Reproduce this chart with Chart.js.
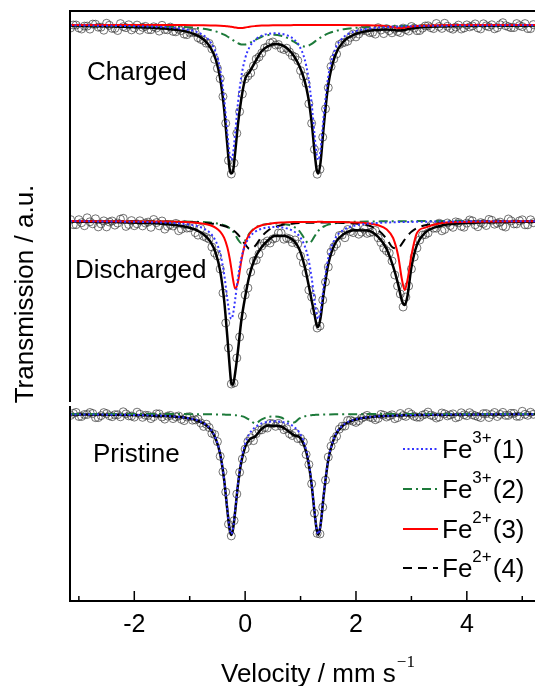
<!DOCTYPE html>
<html>
<head>
<meta charset="utf-8">
<script src="https://cdn.jsdelivr.net/npm/chart.js@4.4.0/dist/chart.umd.min.js"></script>
<style>
  html, body { margin: 0; padding: 0; background: #fff; }
</style>
</head>
<body>
<canvas id="spectra" width="535" height="686"></canvas>
<script>
// velocity grid of the measured points (mm/s)
const velocity = [-3.15,-3.10,-3.05,-3.00,-2.95,-2.90,-2.85,-2.80,-2.75,-2.70,-2.65,-2.60,-2.55,-2.50,-2.45,-2.40,-2.35,-2.30,-2.25,-2.20,
  -2.15,-2.10,-2.05,-2.00,-1.95,-1.90,-1.85,-1.80,-1.75,-1.70,-1.65,-1.60,-1.55,-1.50,-1.45,-1.40,-1.35,-1.30,-1.25,-1.20,
  -1.15,-1.10,-1.05,-1.00,-0.95,-0.90,-0.85,-0.80,-0.75,-0.70,-0.65,-0.60,-0.55,-0.50,-0.45,-0.40,-0.35,-0.30,-0.25,-0.20,
  -0.15,-0.10,-0.05,0.00,0.05,0.10,0.15,0.20,0.25,0.30,0.35,0.40,0.45,0.50,0.55,0.60,0.65,0.70,0.75,0.80,
  0.85,0.90,0.95,1.00,1.05,1.10,1.15,1.20,1.25,1.30,1.35,1.40,1.45,1.50,1.55,1.60,1.65,1.70,1.75,1.80,
  1.85,1.90,1.95,2.00,2.05,2.10,2.15,2.20,2.25,2.30,2.35,2.40,2.45,2.50,2.55,2.60,2.65,2.70,2.75,2.80,
  2.85,2.90,2.95,3.00,3.05,3.10,3.15,3.20,3.25,3.30,3.35,3.40,3.45,3.50,3.55,3.60,3.65,3.70,3.75,3.80,
  3.85,3.90,3.95,4.00,4.05,4.10,4.15,4.20,4.25,4.30,4.35,4.40,4.45,4.50,4.55,4.60,4.65,4.70,4.75,4.80,
  4.85,4.90,4.95,5.00,5.05,5.10,5.15,5.20];

// velocity grid of the fitted curves (mm/s)
const fitVelocity = [-3.16,-2.4,-1.8,-1.4,-1.1,-0.9,-0.75,-0.63,-0.53,-0.45,-0.38,-0.32,-0.28,-0.25,-0.22,-0.18,-0.13,-0.07,0,0.08,
  0.18,0.3,0.42,0.53,0.65,0.77,0.88,0.98,1.07,1.14,1.2,1.25,1.29,1.32,1.36,1.42,1.5,1.62,1.78,1.98,
  2.2,2.4,2.55,2.67,2.76,2.83,2.88,2.93,3,3.1,3.25,3.5,3.9,4.5,5.25];

// transmission (%) - charged
const chargedData = [99.70,100.00,100.00,99.70,99.60,99.89,99.89,99.59,100.09,100.08,99.78,99.78,99.48,100.17,99.97,99.66,99.66,99.45,100.14,99.83,
  99.73,100.02,99.51,99.70,99.99,99.48,99.77,99.86,99.55,99.53,99.82,99.70,99.39,99.97,99.55,99.52,99.79,99.36,99.32,99.58,
  99.44,99.09,99.03,99.25,99.26,99.25,98.73,98.56,98.45,98.18,98.16,97.61,96.57,95.66,94.64,92.85,90.17,86.45,85.10,86.19,
  89.17,91.34,93.10,94.60,94.90,95.20,95.90,96.60,96.80,97.20,97.70,97.80,98.20,98.30,98.00,98.05,97.66,97.55,97.68,97.30,
  96.93,96.80,96.44,95.44,94.88,94.17,92.12,90.17,87.56,85.08,85.57,88.78,91.62,93.73,95.85,96.60,97.10,98.04,98.19,98.28,
  98.38,98.77,99.10,98.81,99.10,99.39,99.54,99.39,99.23,99.26,99.09,99.73,99.50,99.14,99.64,99.43,99.22,99.59,99.35,99.24,
  99.69,99.54,99.40,99.85,99.69,99.43,99.45,99.68,99.90,99.92,99.73,99.64,100.15,99.85,99.66,100.17,99.87,99.68,99.58,99.79,
  99.99,99.60,99.70,100.01,99.81,99.91,100.11,99.71,99.61,100.12,99.92,99.82,100.02,99.62,99.73,100.03,100.23,99.93,99.83,99.74,
  99.74,100.14,99.94,99.84,100.14,99.64,99.64,100.04];
const chargedTotal = [99.92,99.86,99.76,99.62,99.39,99.05,98.55,97.79,96.55,94.64,
  91.64,87.91,85.63,85.15,85.35,87.25,90.05,92.57,94.60,95.30,
  96.30,97.40,97.90,98.10,98.03,97.61,96.90,95.87,94.49,92.73,
  90.26,87.46,85.55,85.15,86.24,89.97,94.02,96.90,98.37,99.06,
  99.39,99.53,99.54,99.51,99.45,99.47,99.52,99.58,99.65,99.73,
  99.80,99.85,99.90,99.92,99.94];
const chargedFe3a = [99.96,99.92,99.86,99.77,99.60,99.35,98.96,98.33,97.24,95.51,
  92.71,89.19,87.08,86.49,87.08,89.16,92.16,94.81,96.65,97.79,
  98.51,98.94,99.12,99.17,99.12,98.94,98.57,97.88,96.65,94.81,
  92.16,89.16,87.08,86.49,87.51,91.04,94.87,97.52,98.80,99.37,
  99.62,99.74,99.79,99.83,99.84,99.86,99.87,99.87,99.88,99.89,
  99.91,99.92,99.95,99.96,99.97];
const chargedFe3b = [99.97,99.95,99.91,99.86,99.80,99.72,99.62,99.50,99.36,99.20,
  99.03,98.85,98.71,98.60,98.49,98.34,98.18,98.06,98.06,98.21,
  98.51,98.83,98.99,99.02,98.92,98.68,98.33,98.00,97.85,97.93,
  98.11,98.31,98.48,98.59,98.74,98.94,99.16,99.39,99.58,99.71,
  99.80,99.85,99.87,99.89,99.90,99.91,99.91,99.92,99.92,99.93,
  99.94,99.95,99.96,99.97,99.98];
const chargedFe2a = [99.99,99.99,99.99,99.99,99.99,99.98,99.97,99.96,99.95,99.93,
  99.90,99.87,99.84,99.82,99.79,99.75,99.71,99.70,99.75,99.83,
  99.89,99.94,99.96,99.97,99.98,99.98,99.99,99.99,99.99,99.99,
  99.99,99.99,99.99,99.99,99.99,99.99,99.99,99.99,99.99,99.98,
  99.97,99.94,99.88,99.79,99.71,99.70,99.74,99.79,99.85,99.91,
  99.95,99.98,99.99,99.99,99.99];

// transmission (%) - discharged
const dischargedData = [100.14,99.64,99.63,100.13,99.83,99.53,100.32,99.92,99.72,100.22,99.41,99.71,100.01,99.41,99.90,100.00,99.59,99.79,100.18,100.27,
  99.46,99.65,100.04,99.53,99.72,100.02,99.51,99.80,99.89,99.37,100.15,99.84,99.52,100.00,99.19,99.47,99.64,99.50,99.76,99.03,
  99.19,99.65,99.29,99.32,99.54,98.84,98.59,99.25,98.47,98.35,98.20,97.40,96.80,96.50,95.20,92.80,89.80,87.30,83.70,83.80,
  86.30,88.40,90.50,92.60,93.30,94.90,96.00,96.10,96.70,97.50,97.80,98.00,97.80,98.20,98.30,98.80,98.80,98.18,98.30,98.22,
  97.85,98.10,97.70,96.50,95.80,94.80,93.10,92.40,91.00,89.30,89.50,92.10,93.90,95.40,96.90,97.40,97.70,98.55,98.60,98.33,
  99.15,98.95,98.84,99.37,98.68,98.88,99.18,98.76,98.85,98.90,99.05,98.32,97.85,97.30,97.03,96.80,96.00,94.60,93.50,92.70,
  91.40,92.40,93.50,95.20,96.40,97.30,98.10,98.60,98.64,98.80,99.55,99.28,99.28,99.78,99.02,99.16,99.80,99.54,99.37,99.91,
  99.84,99.47,99.38,99.79,100.10,100.01,99.62,99.43,99.84,99.75,99.55,100.16,100.07,99.68,99.78,99.89,99.49,99.40,100.20,100.01,
  99.71,99.71,100.01,100.12,99.62,99.62,100.12,99.83];
const dischargedTotal = [99.94,99.90,99.80,99.67,99.45,99.14,98.67,97.96,96.79,94.99,
  92.13,88.33,85.50,83.80,83.60,84.80,87.00,90.00,92.40,94.60,
  96.30,97.40,98.10,98.50,98.52,98.42,98.02,97.16,95.54,93.76,
  92.06,90.70,89.60,89.40,90.30,92.90,95.67,97.73,98.69,99.07,
  99.06,98.42,97.23,95.46,93.69,92.00,91.60,92.53,95.36,97.62,
  98.84,99.48,99.77,99.88,99.93];
const dischargedFe3a = [99.97,99.95,99.90,99.83,99.71,99.53,99.25,98.79,98.00,96.75,
  94.72,92.17,90.65,90.22,90.65,92.15,94.33,96.25,97.57,98.40,
  98.92,99.23,99.37,99.40,99.37,99.23,98.96,98.47,97.57,96.25,
  94.33,92.15,90.65,90.22,90.96,93.51,96.28,98.21,99.13,99.54,
  99.73,99.81,99.85,99.87,99.89,99.90,99.90,99.91,99.91,99.92,
  99.93,99.95,99.96,99.97,99.98];
const dischargedFe3b = [99.99,99.99,99.98,99.96,99.95,99.92,99.89,99.84,99.78,99.70,
  99.58,99.43,99.28,99.13,98.95,98.64,98.16,97.78,98.06,98.78,
  99.33,99.60,99.71,99.75,99.73,99.63,99.42,98.99,98.25,97.77,
  97.99,98.45,98.79,99.01,99.23,99.45,99.64,99.78,99.86,99.92,
  99.95,99.96,99.97,99.97,99.98,99.98,99.98,99.98,99.98,99.99,
  99.99,99.99,99.99,99.99,99.99];
const dischargedFe2a = [99.99,99.98,99.96,99.94,99.89,99.82,99.72,99.57,99.32,98.94,
  98.33,97.34,96.30,95.29,94.21,93.25,93.88,95.99,97.73,98.73,
  99.28,99.57,99.71,99.79,99.84,99.87,99.89,99.90,99.91,99.91,
  99.91,99.91,99.91,99.92,99.92,99.91,99.91,99.91,99.89,99.86,
  99.78,99.57,99.18,98.30,96.55,94.12,93.10,94.12,96.55,98.80,
  99.34,99.75,99.91,99.96,99.98];
const dischargedFe2b = [99.99,99.98,99.96,99.94,99.90,99.87,99.81,99.76,99.69,99.60,
  99.50,99.39,99.29,99.20,99.09,98.92,98.65,98.24,97.67,97.21,
  97.50,98.45,99.08,99.39,99.58,99.69,99.75,99.80,99.81,99.83,
  99.83,99.84,99.85,99.84,99.85,99.84,99.84,99.83,99.81,99.75,
  99.60,99.08,98.23,97.32,97.27,97.74,98.15,98.52,98.92,99.29,
  99.58,99.79,99.91,99.96,99.98];

// transmission (%) - pristine
const pristineData = [99.86,100.06,100.16,99.75,99.75,99.95,99.95,100.15,100.05,99.64,99.64,99.84,100.14,100.04,99.83,99.73,99.93,99.93,99.72,100.22,
  100.01,99.81,99.80,99.69,100.18,99.98,99.67,99.87,99.85,99.54,99.73,100.02,100.01,99.70,99.49,99.79,99.86,99.54,99.72,99.80,
  99.47,99.34,99.70,99.74,99.38,99.41,99.50,99.10,98.76,98.98,98.65,98.07,97.95,97.24,95.77,94.22,92.20,88.98,87.81,89.34,
  92.00,94.17,95.50,96.49,97.26,97.62,97.34,98.04,98.38,98.42,98.64,98.60,99.06,99.02,98.77,99.06,98.80,98.43,98.53,98.03,
  97.85,98.08,97.54,97.56,97.20,95.95,94.95,93.02,90.08,88.06,88.00,90.68,93.38,95.70,96.78,97.42,97.78,98.49,98.78,98.79,
  99.35,99.38,99.27,99.16,99.33,99.58,99.72,99.86,99.68,99.60,99.43,99.56,99.96,99.88,99.70,99.81,99.92,99.53,99.64,100.05,
  99.85,99.76,100.16,99.97,99.77,99.68,99.68,99.88,99.98,100.19,99.89,99.80,99.60,99.70,100.10,100.01,99.81,99.91,100.01,99.62,
  99.72,100.12,99.92,99.83,100.13,99.93,99.83,99.74,99.64,100.04,100.04,99.65,99.95,100.15,99.75,99.96,100.16,99.86,99.86,100.06,
  100.06,99.77,99.77,100.27,99.97,99.87,100.17,99.97];
const pristineTotal = [99.96,99.93,99.87,99.79,99.64,99.41,99.06,98.49,97.51,95.97,
  93.47,90.33,88.45,87.91,88.43,90.25,92.89,95.18,96.69,97.45,
  97.75,98.52,98.85,98.82,98.75,98.32,97.88,97.68,96.78,95.23,
  92.92,90.28,88.45,87.93,88.85,91.99,95.40,97.77,98.91,99.42,
  99.66,99.76,99.81,99.84,99.85,99.86,99.87,99.88,99.88,99.90,
  99.91,99.92,99.94,99.96,99.97];
const pristineFe3a = [99.96,99.93,99.88,99.80,99.65,99.43,99.08,98.52,97.55,96.01,
  93.53,90.40,88.53,88.00,88.53,90.37,93.04,95.39,97.02,98.04,
  98.68,99.06,99.22,99.27,99.22,99.06,98.73,98.12,97.02,95.39,
  93.04,90.37,88.53,88.00,88.91,92.04,95.44,97.80,98.93,99.44,
  99.67,99.77,99.82,99.85,99.86,99.87,99.88,99.89,99.89,99.91,
  99.92,99.93,99.95,99.97,99.98];
const pristineFe3b = [100.00,100.00,99.99,99.99,99.99,99.98,99.98,99.97,99.96,99.96,
  99.94,99.93,99.92,99.91,99.90,99.88,99.85,99.79,99.67,99.41,
  99.07,99.46,99.72,99.76,99.65,99.26,99.15,99.56,99.76,99.84,
  99.88,99.91,99.92,99.93,99.94,99.95,99.96,99.97,99.98,99.98,
  99.99,99.99,99.99,99.99,99.99,99.99,99.99,99.99,99.99,99.99,
  99.99,99.99,99.99,99.99,99.99];

const xTicks = [-2, 0, 2, 4];
const xMinorTicks = [-3, -1, 1, 3, 5];
const panelNames = ['Charged', 'Discharged', 'Pristine'];
const legendCharge = ['3+', '3+', '2+', '2+'];
const legendSite = ['(1)', '(2)', '(3)', '(4)'];

// vertical offset of each spectrum in the stacked plot
const offsets = { charged: 57.6, discharged: 38.0, pristine: 18.7 };
const axisBreak = 19.7;

const SANS = '"Liberation Sans", Arial, Helvetica, sans-serif';

const totalStyle = { borderColor: '#000', borderWidth: 2.5, order: 8 };
const fe3aStyle = { borderColor: '#3535ff', borderWidth: 2, borderDash: [2, 2.5], order: 3 };
const fe3bStyle = { borderColor: '#1d7a3a', borderWidth: 2, borderDash: [9, 4, 2, 4], order: 6 };
const fe2aStyle = { borderColor: '#ff0000', borderWidth: 2, order: 4 };
const fe2bStyle = { borderColor: '#000', borderWidth: 2, borderDash: [9, 6], order: 5 };
const legendStyles = [fe3aStyle, fe3bStyle, fe2aStyle, fe2bStyle];

function stack(xs, ys, off) {
    return ys.map((t, i) => ({ x: xs[i], y: t - 100 + off }));
}

function measured(ys, off) {
    return {
        data: stack(velocity, ys, off),
        showLine: false,
        pointRadius: 4,
        pointBorderWidth: 1,
        pointBorderColor: 'rgba(55,55,55,0.7)',
        pointBackgroundColor: 'rgba(0,0,0,0)',
        order: 10
    };
}

function fitted(ys, off, style) {
    return Object.assign({
        data: stack(fitVelocity, ys, off),
        pointRadius: 0,
        fill: false,
        cubicInterpolationMode: 'monotone'
    }, style);
}

const datasets = [
    measured(chargedData, offsets.charged),
    fitted(chargedTotal, offsets.charged, totalStyle),
    fitted(chargedFe3a, offsets.charged, fe3aStyle),
    fitted(chargedFe3b, offsets.charged, fe3bStyle),
    fitted(chargedFe2a, offsets.charged, fe2aStyle),

    measured(dischargedData, offsets.discharged),
    fitted(dischargedTotal, offsets.discharged, totalStyle),
    fitted(dischargedFe3a, offsets.discharged, fe3aStyle),
    fitted(dischargedFe3b, offsets.discharged, fe3bStyle),
    fitted(dischargedFe2a, offsets.discharged, fe2aStyle),
    fitted(dischargedFe2b, offsets.discharged, fe2bStyle),

    measured(pristineData, offsets.pristine),
    fitted(pristineTotal, offsets.pristine, totalStyle),
    fitted(pristineFe3a, offsets.pristine, fe3aStyle),
    fitted(pristineFe3b, offsets.pristine, fe3bStyle)
];

// frame, inward ticks, labels, legend and axis titles
const decorations = {
    id: 'decorations',
    afterDraw(chart) {
        const { ctx, chartArea: a, scales: { x, y } } = chart;
        ctx.save();
        ctx.strokeStyle = '#000';
        ctx.lineWidth = 2;
        ctx.beginPath();
        ctx.moveTo(a.left - 1, a.top);
        ctx.lineTo(a.right, a.top);
        ctx.stroke();

        const gapTop = y.getPixelForValue(axisBreak + 0.2);
        const gapBottom = y.getPixelForValue(axisBreak - 0.2);
        ctx.beginPath();
        ctx.moveTo(a.left, a.top - 1);
        ctx.lineTo(a.left, gapTop);
        ctx.moveTo(a.left, gapBottom);
        ctx.lineTo(a.left, a.bottom + 1);
        ctx.stroke();

        ctx.lineWidth = 1.5;
        xTicks.forEach(v => {
            const px = x.getPixelForValue(v);
            ctx.beginPath(); ctx.moveTo(px, a.bottom); ctx.lineTo(px, a.bottom - 10); ctx.stroke();
        });
        xMinorTicks.forEach(v => {
            const px = x.getPixelForValue(v);
            if (px < a.left || px > a.right) return;
            ctx.beginPath(); ctx.moveTo(px, a.bottom); ctx.lineTo(px, a.bottom - 5); ctx.stroke();
        });

        ctx.fillStyle = '#000';
        ctx.textBaseline = 'alphabetic';
        ctx.textAlign = 'left';
        ctx.font = '26px ' + SANS;
        ctx.fillText(panelNames[0], 87, 80);
        ctx.fillText(panelNames[1], 75, 278);
        ctx.fillText(panelNames[2], 93, 462);

        // legend
        const rows = [449, 489, 529, 568];
        rows.forEach((ry, i) => {
            const st = legendStyles[i];
            ctx.strokeStyle = st.borderColor;
            ctx.lineWidth = st.borderWidth;
            ctx.setLineDash(st.borderDash || []);
            ctx.beginPath(); ctx.moveTo(403, ry); ctx.lineTo(438, ry); ctx.stroke();
            ctx.setLineDash([]);
            ctx.font = '26px ' + SANS;
            ctx.fillText('Fe', 442, ry + 9);
            let cx = 442 + ctx.measureText('Fe').width;
            ctx.font = '17px ' + SANS;
            ctx.fillText(legendCharge[i], cx, ry - 6);
            cx += ctx.measureText(legendCharge[i]).width + 1;
            ctx.font = '26px ' + SANS;
            ctx.fillText(legendSite[i], cx, ry + 9);
        });

        // x title with superscript
        ctx.font = '26px ' + SANS;
        const main = 'Velocity / mm s';
        ctx.fillText(main, 221, 682);
        const endX = 221 + ctx.measureText(main).width;
        ctx.font = '17px "Liberation Serif", "Times New Roman", serif';
        ctx.fillText('\u22121', endX + 1, 667);

        // y title
        ctx.font = '26px ' + SANS;
        ctx.translate(33, 294);
        ctx.rotate(-Math.PI / 2);
        ctx.textAlign = 'center';
        ctx.fillText('Transmission / a.u.', 0, 0);
        ctx.restore();
    }
};

const spectraChart = new Chart(document.getElementById('spectra').getContext('2d'), {
    type: 'line',
    data: { datasets: datasets },
    options: {
        responsive: false,
        animation: false,
        events: [],
        layout: { autoPadding: false, padding: { left: 70, top: 11, right: 0, bottom: 0 } },
        plugins: { legend: { display: false }, tooltip: { enabled: false } },
        scales: {
            x: {
                type: 'linear',
                min: -3.16,
                max: 5.23,
                position: 'bottom',
                grid: { display: false, drawTicks: false },
                border: { display: true, color: '#000', width: 2 },
                afterBuildTicks: s => { s.ticks = xTicks.map(v => ({ value: v })); },
                afterFit: s => { s.height = 85; },
                ticks: { color: '#000', padding: 9, maxRotation: 0, font: { family: SANS, size: 25 } }
            },
            y: { type: 'linear', min: 0, max: 59, display: false }
        }
    },
    plugins: [decorations]
});
</script>
</body>
</html>
